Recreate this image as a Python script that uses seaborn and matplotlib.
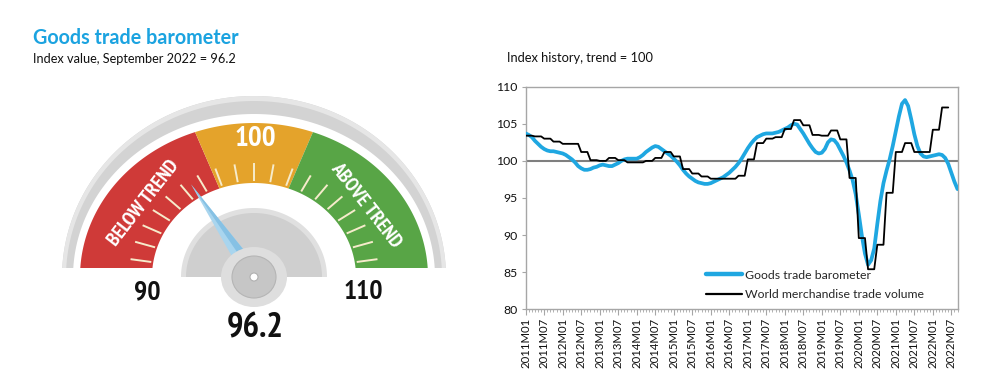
import numpy as np
import pandas as pd
import matplotlib
matplotlib.use("Agg")
import matplotlib.pyplot as plt
import seaborn as sns
from matplotlib import font_manager as fm
from matplotlib.patches import Polygon, Ellipse

# ---------------- data ----------------
gauge_value = 96.2
gauge_min = 90
gauge_max = 110
zone_bounds = [90, 97.8, 102.2, 110]
zone_colors = ["#cf3a38", "#e4a32b", "#58a546"]
gauge_end_labels = ["90", "110"]
center_label = "100"
below_label = "BELOW TREND"
above_label = "ABOVE TREND"

start_year = 2011
barometer = [
    103.7, 103.5, 103.2, 102.7, 102.3, 101.9, 101.6, 101.4, 101.3, 101.3,
    101.2, 101.1, 101.0, 100.8, 100.5, 100.2, 99.8, 99.3, 99.0, 98.8,
    98.8, 98.9, 99.1, 99.2, 99.4, 99.5, 99.4, 99.3, 99.3, 99.5,
    99.7, 100.0, 100.2, 100.3, 100.3, 100.3, 100.3, 100.5, 100.8, 101.2,
    101.5, 101.8, 102.0, 101.9, 101.6, 101.3, 101.0, 100.7, 100.3, 99.9,
    99.4, 98.8, 98.3, 97.9, 97.6, 97.3, 97.1, 97.0, 96.9, 96.9,
    97.0, 97.2, 97.4, 97.6, 97.8, 98.1, 98.4, 98.8, 99.2, 99.7,
    100.3, 101.0, 101.7, 102.3, 102.8, 103.2, 103.4, 103.6, 103.7, 103.7,
    103.7, 103.8, 103.9, 104.1, 104.3, 104.5, 104.8, 105.0, 104.9, 104.3,
    103.7, 103.0, 102.3, 101.7, 101.2, 101.0, 101.1, 101.6, 102.5, 102.9,
    102.8, 102.3, 101.5, 100.7, 99.8, 98.7, 97.4, 95.5, 92.8, 89.9,
    87.5, 86.0, 86.6, 88.2, 91.5, 94.6, 97.0, 98.7, 100.2, 102.0,
    104.0, 106.0, 107.7, 108.2, 107.4, 105.6, 103.6, 102.0, 101.0, 100.6,
    100.5, 100.6, 100.7, 100.8, 100.9, 100.8, 100.4, 99.6, 98.4, 97.2, 96.2,
]
trade_volume_quarterly = [
    103.4, 103.3, 103.0, 102.6, 102.3, 102.3, 101.2, 100.1, 100.0, 100.4,
    100.1, 99.8, 99.8, 100.0, 100.4, 101.2, 100.6, 98.9, 98.3, 97.9,
    97.6, 97.6, 97.6, 98.0, 100.2, 102.4, 103.0, 103.2, 104.3, 105.5,
    104.8, 103.5, 103.4, 104.1, 102.9, 97.7, 89.6, 85.4, 88.7, 95.7,
    101.2, 102.4, 101.2, 101.2, 104.2, 107.2,
]
series_names = ["Goods trade barometer", "World merchandise trade volume"]
y_ticks = [80, 85, 90, 95, 100, 105, 110]
trend_level = 100

# ---------------- style ----------------
sns.set_style("white")
plt.rcParams["font.family"] = ["Lato", "DejaVu Sans"]


def pick_font(keys):
    for key in keys:
        for f in fm.fontManager.ttflist:
            fn = f.fname.lower()
            if all(k in fn for k in key) and "italic" not in fn and "oblique" not in fn:
                return fm.FontProperties(fname=f.fname)
    return None


cond = pick_font([("narrow", "bold"), ("condensed", "bold"), ("condensed",), ("narrow",)])
if cond is None:
    cond = fm.FontProperties(family="DejaVu Sans", weight="bold")

W, H = 999, 382
fig = plt.figure(figsize=(W / 100, H / 100), dpi=100)
fig.patch.set_facecolor("white")


def fx(x):
    return x / W


def fy(y):
    return 1 - y / H


# titles
fig.text(fx(33), fy(38), "Goods trade barometer", color="#1ba3e0", fontsize=14.2,
         fontweight="bold", va="center", ha="left")
fig.text(fx(33), fy(59), "Index value, September 2022 = 96.2", color="#111111",
         fontsize=9.2, va="center", ha="left")
fig.text(fx(507), fy(58), "Index history, trend = 100", color="#111111",
         fontsize=9.3, va="center", ha="left")

# ---------------- gauge ----------------
gax = fig.add_axes([0, 0, 0.5, 1])
gax.set_xlim(0, W / 2)
gax.set_ylim(H, 0)
gax.axis("off")

cx, cy = 254.0, 277.0


def ang(v):
    return 180.0 - (v - gauge_min) / (gauge_max - gauge_min) * 180.0


def ring(ax, rxi, ryi, rxo, ryo, a0, a1, color, z=1, n=120):
    th = np.radians(np.linspace(a0, a1, n))
    xo = cx + rxo * np.cos(th)
    yo = cy - ryo * np.sin(th)
    xi = cx + rxi * np.cos(th[::-1])
    yi = cy - ryi * np.sin(th[::-1])
    ax.add_patch(Polygon(np.c_[np.r_[xo, xi], np.r_[yo, yi]], closed=True,
                         fc=color, ec="none", zorder=z))


# outer rim
ring(gax, 181, 163, 192, 181, 0, 180, "#d3d3d3", z=1)
ring(gax, 188, 176, 192, 181, 0, 180, "#e6e6e6", z=1.1)
# zones
for i in range(3):
    ring(gax, 102, 94, 174, 154, ang(zone_bounds[i + 1]), ang(zone_bounds[i]),
         zone_colors[i], z=2)
# ticks
for v in np.arange(gauge_min + 1, gauge_max, 1.0):
    t = np.radians(ang(v))
    r0x, r0y, r1x, r1y = 104, 96, 125, 114
    gax.plot([cx + r0x * np.cos(t), cx + r1x * np.cos(t)],
             [cy - r0y * np.sin(t), cy - r1y * np.sin(t)],
             color="#f6ebcb", lw=1.4, solid_capstyle="butt", zorder=3)
# white base under the band
gax.add_patch(plt.Rectangle((40, 268), 430, 40, fc="white", ec="none", zorder=4))
# hub
ring(gax, 0, 0, 73, 69, 0, 180, "#e0e0e0", z=5)
ring(gax, 0, 0, 68, 64, 0, 180, "#cfcfcf", z=5.1)
# needle
t = np.radians(ang(gauge_value))
tip = (cx + 112 * np.cos(t), cy - 112 * np.sin(t))
px, py = np.sin(t), np.cos(t)
base1 = (cx + 9 * px, cy + 9 * py)
base2 = (cx - 9 * px, cy - 9 * py)
gax.add_patch(Polygon([tip, base1, base2], closed=True, fc="#a9d5ee", ec="none", zorder=6))
gax.add_patch(Polygon([tip, base1, (cx, cy)], closed=True, fc="#86c1e4", ec="none", zorder=6.1))
# cap
gax.add_patch(Ellipse((cx, cy), 66, 60, fc="#dedede", ec="none", zorder=7))
gax.add_patch(Ellipse((cx, cy), 44, 42, fc="#c6c6c6", ec="#b5b5b5", lw=0.8, zorder=7.1))
gax.add_patch(Ellipse((cx, cy), 8, 8, fc="white", ec="#b0b0b0", lw=0.8, zorder=7.2))

# gauge labels
gax.text(147, 292, gauge_end_labels[0], fontproperties=cond, fontsize=20,
         ha="center", va="center", color="#111111", zorder=8)
gax.text(363, 292, gauge_end_labels[1], fontproperties=cond, fontsize=20,
         ha="center", va="center", color="#111111", zorder=8)
gax.text(255, 328, f"{gauge_value:.1f}", fontproperties=cond, fontsize=25,
         ha="center", va="center", color="#111111", zorder=8)
gax.text(255, 139, center_label, fontproperties=cond, fontsize=21,
         ha="center", va="center", color="white", zorder=8)
gax.text(144, 203, below_label, fontproperties=cond, fontsize=14.5, rotation=52,
         ha="center", va="center", color="white", zorder=8, rotation_mode="anchor")
gax.text(366, 205, above_label, fontproperties=cond, fontsize=14.5, rotation=-52,
         ha="center", va="center", color="white", zorder=8, rotation_mode="anchor")

# ---------------- line chart ----------------
n_months = len(barometer)
months = np.arange(n_months)
month_labels = [f"{start_year + m // 12}M{m % 12 + 1:02d}" for m in months]
trade_monthly = np.repeat(trade_volume_quarterly, 3)
df = pd.DataFrame({"m": months, "label": month_labels, "barometer": barometer})
dft = pd.DataFrame({"m": months[: len(trade_monthly)], "trade": trade_monthly})

left, right, top, bottom = 525.7, 957.5, 86.7, 309.3
ax = fig.add_axes([fx(left), fy(bottom), (right - left) / W, (bottom - top) / H])
ax.axhline(trend_level, color="#7f7f7f", lw=1.5, zorder=1)
sns.lineplot(data=df, x="m", y="barometer", color="#1fa7e1", linewidth=2.7,
             label=series_names[0], ax=ax, zorder=3)
sns.lineplot(data=dft, x="m", y="trade", color="black", linewidth=1.3,
             label=series_names[1], ax=ax, zorder=4)
ax.set_xlim(0, n_months - 1)
ax.set_ylim(y_ticks[0], y_ticks[-1])
ax.set_yticks(y_ticks)
ax.set_xticks(months[::6])
ax.set_xticklabels(df["label"].iloc[::6], rotation=90, fontsize=8.2)
ax.set_xticks(months, minor=True)
ax.set_xlabel("")
ax.set_ylabel("")
for s in ax.spines.values():
    s.set_color("#a6a6a6")
    s.set_linewidth(1.0)
ax.tick_params(axis="y", labelsize=8.8, length=3, color="#a6a6a6", pad=3,
               labelcolor="#111111", direction="out", left=True)
ax.tick_params(axis="x", which="major", length=4, color="#a6a6a6", pad=2,
               labelcolor="#111111", direction="out", bottom=True)
ax.tick_params(axis="x", which="minor", length=2, color="#a6a6a6", direction="out", bottom=True)
leg = ax.legend(loc="upper left", bbox_to_anchor=(0.418, 0.178), frameon=False,
                fontsize=8.8, handlelength=2.9, handletextpad=0.3, labelspacing=0.7,
                borderpad=0, borderaxespad=0)
for h, lw in zip(leg.get_lines(), [3.2, 1.6]):
    h.set_linewidth(lw)

fig.savefig("out.png", dpi=100, facecolor="white")
